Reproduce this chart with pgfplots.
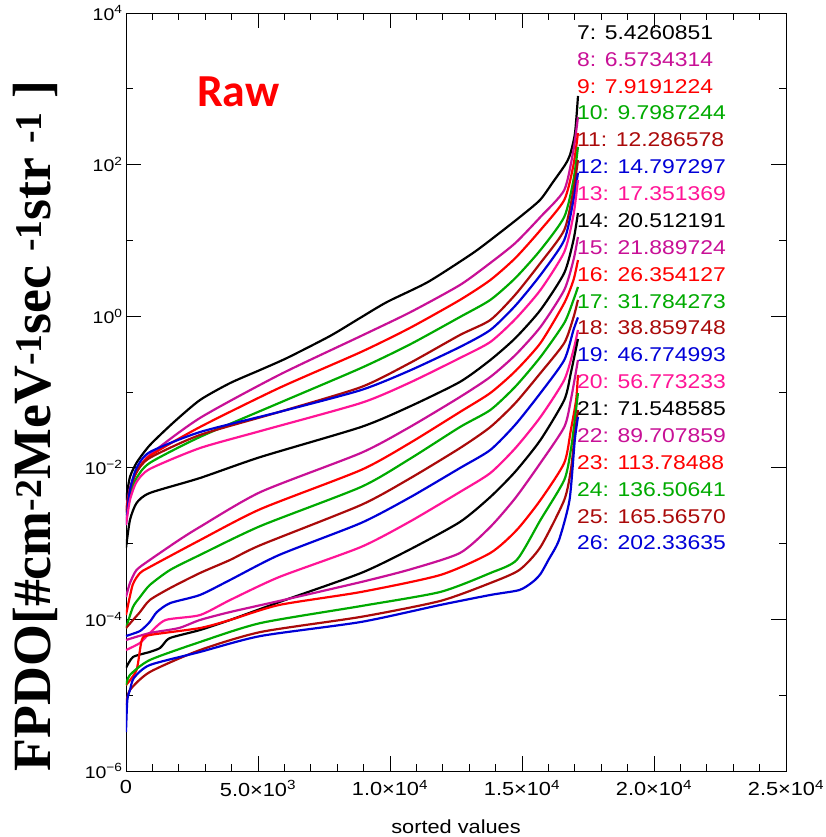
\documentclass[border=0pt]{standalone}
\usepackage{fontspec}
\usepackage{pgfplots}
\pgfplotsset{compat=1.18}
\setmainfont{Liberation Sans}
\newfontfamily\idl[FakeStretch=1.15]{Liberation Sans}
\newfontfamily\tnr{Liberation Serif}
\newfontfamily\calib{Carlito}
\definecolor{cblack}{RGB}{0,0,0}
\definecolor{cmag}{RGB}{200,16,150}
\definecolor{cred}{RGB}{255,0,0}
\definecolor{cgreen}{RGB}{0,170,0}
\definecolor{cdred}{RGB}{170,10,10}
\definecolor{cblue}{RGB}{0,0,215}
\definecolor{cpink}{RGB}{255,20,150}
\begin{document}
\begin{tikzpicture}
\begin{axis}[
 at={(0,0)}, anchor=south west,
 scale only axis, width=660bp, height=758bp,
 xmin=0, xmax=25000, ymin=1e-6, ymax=1e4, ymode=log,
 axis line style={black, line width=0.9bp},
 tick style={black, line width=0.9bp},
 tick align=inside,
 major tick length=15bp, minor tick length=7.5bp,
 xtick={0,5000,10000,15000,20000,25000},
 minor xtick={1000,2000,3000,4000,6000,7000,8000,9000,11000,12000,13000,14000,16000,17000,18000,19000,21000,22000,23000,24000},
 xticklabels={0,{5.0×10\textsuperscript{3}},{1.0×10\textsuperscript{4}},{1.5×10\textsuperscript{4}},{2.0×10\textsuperscript{4}},{2.5×10\textsuperscript{4}}},
 scaled x ticks=false,
 ytick={1e-6,1e-4,1e-2,1,1e2,1e4},
 minor ytick={1e-5,1e-3,1e-1,1e1,1e3},
 yticklabels={{10\textsuperscript{−6}},{10\textsuperscript{−4}},{10\textsuperscript{−2}},{10\textsuperscript{0}},{10\textsuperscript{2}},{10\textsuperscript{4}}},
 xticklabel style={font=\idl\fontsize{19}{21}\selectfont, yshift=-6bp},
 yticklabel style={font=\idl\fontsize{17}{19}\selectfont},
 no markers,
 every axis plot/.append style={line width=2.2bp, smooth, tension=0.4},
]
% 7
\addplot[cblack] coordinates {(0,3.76e-3) (150,7.57e-3) (417,1.19e-2) (909,2.0e-2) (1818,4.02e-2) (2803,7.84e-2) (3940,0.131) (5076,0.195) (6099,0.281) (7728,0.548) (8864,0.947) (9887,1.54) (11440,2.83) (13144,6.82) (14053,11.8) (14924,20.4) (15682,34.1) (16175,58.9) (16629,98.8) (16818,134) (17008,261) (17121,804)};
% 8
\addplot[cmag] coordinates {(0,2.77e-3) (150,5.41e-3) (400,8.81e-3) (900,1.48e-2) (2800,4.54e-2) (5800,0.168) (8900,0.548) (10750,1.12) (12650,2.58) (13800,5.04) (14750,9.25) (15700,20.4) (16600,46.2) (16950,156) (17120,425)};
% 9
\addplot[cred] coordinates {(0,2.61e-3) (150,5.09e-3) (400,8.81e-3) (900,1.43e-2) (2800,3.45e-2) (5800,0.113) (8900,0.337) (10750,0.699) (12650,1.64) (13800,3.0) (14750,5.86) (15700,13.7) (16600,34.1) (16950,98.8) (17120,261)};
% 10
\addplot[cgreen] coordinates {(0,2.38e-3) (150,4.38e-3) (400,7.33e-3) (900,1.16e-2) (2800,2.55e-2) (5800,7.16e-2) (8900,0.207) (10750,0.423) (12650,0.976) (13800,1.64) (14750,3.19) (15700,7.47) (16600,20.4) (16950,62.6) (17120,171)};
% 11
\addplot[cdred] coordinates {(0,2.53e-3) (150,5.09e-3) (400,8.81e-3) (900,1.35e-2) (2800,2.71e-2) (5800,5.45e-2) (8900,0.116) (10750,0.241) (12650,0.565) (13800,0.891) (14750,1.93) (15700,5.04) (16600,13.7) (16950,46.2) (17120,115)};
% 12
\addplot[cblue] coordinates {(0,1.76e-3) (150,5.09e-3) (400,9.93e-3) (900,1.61e-2) (2800,2.96e-2) (5800,5.45e-2) (8900,0.106) (10750,0.192) (12650,0.393) (13800,0.658) (14750,1.38) (15700,3.50) (16600,10.1) (16950,34.1) (17120,77.5)};
% 13
\addplot[cpink] coordinates {(0,1.76e-3) (150,3.76e-3) (400,6.50e-3) (900,9.64e-3) (2800,1.82e-2) (5100,3.06e-2) (8900,7.16e-2) (10750,0.133) (12650,0.281) (13800,0.457) (14750,0.918) (15700,2.22) (16600,7.03) (16950,21.6) (17120,62.6)};
% 14
\addplot[cblack] coordinates {(0,8.75e-4) (150,2.05e-3) (400,3.43e-3) (900,4.65e-3) (2800,7.33e-3) (5100,1.39e-2) (8900,3.45e-2) (10750,6.44e-2) (12650,0.136) (13800,0.264) (14750,0.515) (15700,1.21) (16600,3.72) (16950,10.1) (17120,23.0)};
% 15
\addplot[cmag] coordinates {(0,1.97e-4) (150,3.02e-4) (400,4.49e-4) (900,6.08e-4) (2000,1.11e-3) (2800,1.66e-3) (5100,4.80e-3) (8900,1.57e-2) (10750,3.45e-2) (12650,8.59e-2) (13800,0.158) (14750,0.308) (15700,0.721) (16600,2.22) (16950,5.51) (17120,11.1)};
% 16
\addplot[cred] coordinates {(0,1.14e-4) (250,2.84e-4) (530,4.09e-4) (900,4.91e-4) (2800,1.11e-3) (5100,2.86e-3) (8900,9.35e-3) (10750,2.12e-2) (12650,5.45e-2) (13800,9.7e-2) (14750,0.189) (15700,0.443) (16600,1.49) (16950,3.0) (17120,5.51)};
% 17
\addplot[cgreen] coordinates {(0,7.69e-5) (265,1.46e-4) (530,1.97e-4) (900,2.84e-4) (1670,4.49e-4) (2800,7.08e-4) (5100,1.71e-3) (8900,5.58e-3) (10750,1.31e-2) (12650,3.45e-2) (13800,5.79e-2) (14750,0.118) (15700,0.290) (16600,0.813) (16950,1.64) (17120,2.43)};
% 18
\addplot[cdred] coordinates {(0,7.69e-5) (265,9.82e-5) (530,1.25e-4) (900,1.80e-4) (1670,2.59e-4) (2800,4.09e-4) (3940,6.08e-4) (5100,9.57e-4) (8900,3.23e-3) (10750,7.23e-3) (12650,1.82e-2) (13800,3.45e-2) (14750,7.16e-2) (15700,0.178) (16600,0.443) (16950,0.964) (17120,1.64)};
% 19
\addplot[cblue] coordinates {(0,6.04e-5) (530,7.03e-5) (900,9.25e-5) (1170,1.25e-4) (1670,1.64e-4) (2800,2.10e-4) (3940,3.31e-4) (5800,7.08e-4) (8900,1.87e-3) (10750,4.06e-3) (12650,9.93e-3) (13800,1.72e-2) (14750,3.72e-2) (15700,9.7e-2) (16600,0.264) (16950,0.658) (17120,0.964)};
% 20
\addplot[cpink] coordinates {(0,3.94e-5) (530,4.89e-5) (900,6.61e-5) (1500,9.82e-5) (2800,1.14e-4) (3940,1.80e-4) (5800,3.62e-4) (8900,9.02e-4) (10750,1.95e-3) (12650,4.80e-3) (13800,8.53e-3) (14750,1.82e-2) (15700,4.68e-2) (16600,0.144) (16950,0.358) (17120,0.658)};
% 21
\addplot[cblack] coordinates {(0,2.29e-5) (265,3.19e-5) (900,3.72e-5) (1290,4.20e-5) (1550,5.35e-5) (1780,5.86e-5) (2800,7.24e-5) (3940,9.82e-5) (5800,1.69e-4) (8900,4.09e-4) (10750,8.36e-4) (12650,1.93e-3) (13800,4.12e-3) (14750,8.93e-3) (15700,2.33e-2) (16600,7.84e-2) (16850,0.178) (17120,0.500)};
% 22
\addplot[cmag] coordinates {(0,5.35e-5) (900,6.61e-5) (2000,7.69e-5) (2800,9.82e-5) (3940,1.25e-4) (5800,1.75e-4) (8900,3.11e-4) (10750,4.55e-4) (12650,7.52e-4) (13800,1.66e-3) (14750,4.00e-3) (15700,1.16e-2) (16600,3.45e-2) (16850,7.84e-2) (17120,0.264)};
% 23
\addplot[cred] coordinates {(0,1.36e-5) (400,2.15e-5) (600,5.35e-5) (900,6.22e-5) (2800,7.69e-5) (3940,9.82e-5) (5800,1.55e-4) (8900,2.30e-4) (11900,3.85e-4) (13800,7.52e-4) (14800,1.51e-3) (15700,3.76e-3) (16600,1.16e-2) (16850,3.15e-2) (17050,7.84e-2) (17120,0.168)};
% 24
\addplot[cgreen] coordinates {(0,1.36e-5) (150,1.85e-5) (900,2.91e-5) (2800,5.03e-5) (5100,8.96e-5) (8900,1.50e-4) (11900,2.30e-4) (13800,4.09e-4) (14800,6.08e-4) (15700,2.05e-3) (16600,6.90e-3) (16850,1.72e-2) (17000,4.28e-2) (17120,9.7e-2)};
% 25
\addplot[cdred] coordinates {(0,7.43e-6) (150,1.17e-5) (900,2.02e-5) (2800,3.94e-5) (5100,6.82e-5) (8900,1.08e-4) (11900,1.75e-4) (13800,3.02e-4) (14900,4.49e-4) (15700,9.02e-4) (16600,3.76e-3) (16850,9.35e-3) (17000,2.71e-2) (17120,5.79e-2)};
% 26
\addplot[cblue] coordinates {(0,3.27e-6) (50,8.65e-6) (150,1.17e-5) (300,1.69e-5) (900,2.50e-5) (2800,3.72e-5) (5100,6.04e-5) (8900,9.25e-5) (11900,1.55e-4) (13800,2.10e-4) (14900,2.44e-4) (15400,3.11e-4) (15700,3.97e-4) (16000,6.08e-4) (16400,1.11e-3) (16800,3.76e-3) (17000,2.33e-2) (17120,4.68e-2)};
\node[font=\calib\bfseries\fontsize{46}{50}\selectfont, text=red] at (axis description cs:0.170,0.896) {Raw};
\end{axis}
\node[rotate=90, font=\tnr\bfseries\fontsize{54}{58}\selectfont] at (-91bp,345bp) {FPDO[\#cm\textsuperscript{-2}MeV\textsuperscript{-1}sec \textsuperscript{-1}str \textsuperscript{-1} ]};
\node[font=\idl\fontsize{19}{21}\selectfont] at (330bp,-56bp) {sorted values};
\foreach \t/\c [count=\k from 0] in {{7: 5.4260851}/cblack,{8: 6.5734314}/cmag,{9: 7.9191224}/cred,{10: 9.7987244}/cgreen,{11: 12.286578}/cdred,{12: 14.797297}/cblue,{13: 17.351369}/cpink,{14: 20.512191}/cblack,{15: 21.889724}/cmag,{16: 26.354127}/cred,{17: 31.784273}/cgreen,{18: 38.859748}/cdred,{19: 46.774993}/cblue,{20: 56.773233}/cpink,{21: 71.548585}/cblack,{22: 89.707859}/cmag,{23: 113.78488}/cred,{24: 136.50641}/cgreen,{25: 165.56570}/cdred,{26: 202.33635}/cblue}
 \node[anchor=west, inner sep=0pt, text=\c, font=\idl\fontsize{20}{22}\selectfont] at (451bp,{738.5bp-\k*26.87bp}) {\t};
\pgfresetboundingbox
\path[use as bounding box] (-126bp,-66bp) rectangle (700bp,771bp);
\end{tikzpicture}
\end{document}
